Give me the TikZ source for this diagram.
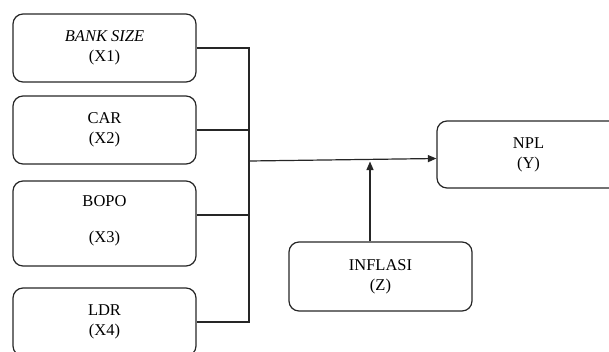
\documentclass[tikz,border=0pt]{standalone}
\usepackage{fontspec}
\setmainfont{Liberation Serif}
\usetikzlibrary{arrows.meta}
\begin{document}
\begin{tikzpicture}[x=1pt,y=-1pt,
  box/.style={draw=black!85, line width=1.2pt, rectangle, rounded corners=10pt,
    minimum width=183pt, minimum height=68pt, inner sep=0pt, align=center,
    font=\fontsize{16.5pt}{20pt}\selectfont},
  conn/.style={draw=black!85, line width=1.2pt},
  arr/.style={conn, -{Triangle[length=8.5pt,width=7pt]}}]
\useasboundingbox (0,0) rectangle (609,351);
\node[box] (b1) at (104.5,48) {\textit{BANK SIZE}\\(X1)};
\node[box] (b2) at (104.5,130) {CAR\\(X2)};
\node[box, minimum height=85pt] (b3) at (104.5,223.5) {BOPO\\[16pt](X3)\\[-12pt]\mbox{}};
\node[box] (b4) at (104.5,322) {LDR\\(X4)};
\node[box, minimum height=67pt] (npl) at (528.5,154.5) {NPL\\(Y)};
\node[box, minimum height=69pt] (inf) at (380.5,276.5) {INFLASI\\(Z)};
\coordinate (top) at (249,48);
\coordinate (bot) at (249,322);
\coordinate (src) at (249,161);
\coordinate (mid) at (370,161.5);
\draw[conn] (b1.east) -- (top) -- (bot) -- (b4.east);
\draw[conn] (b2.east) -- (b2.east -| top);
\draw[conn] ([yshift=8.5pt]b3.east) -- ([yshift=8.5pt]b3.east -| top);
\draw[arr] (src) -- ([yshift=-4pt]npl.west);
\draw[arr] (inf.north -| mid) -- (mid);
\end{tikzpicture}
\end{document}
